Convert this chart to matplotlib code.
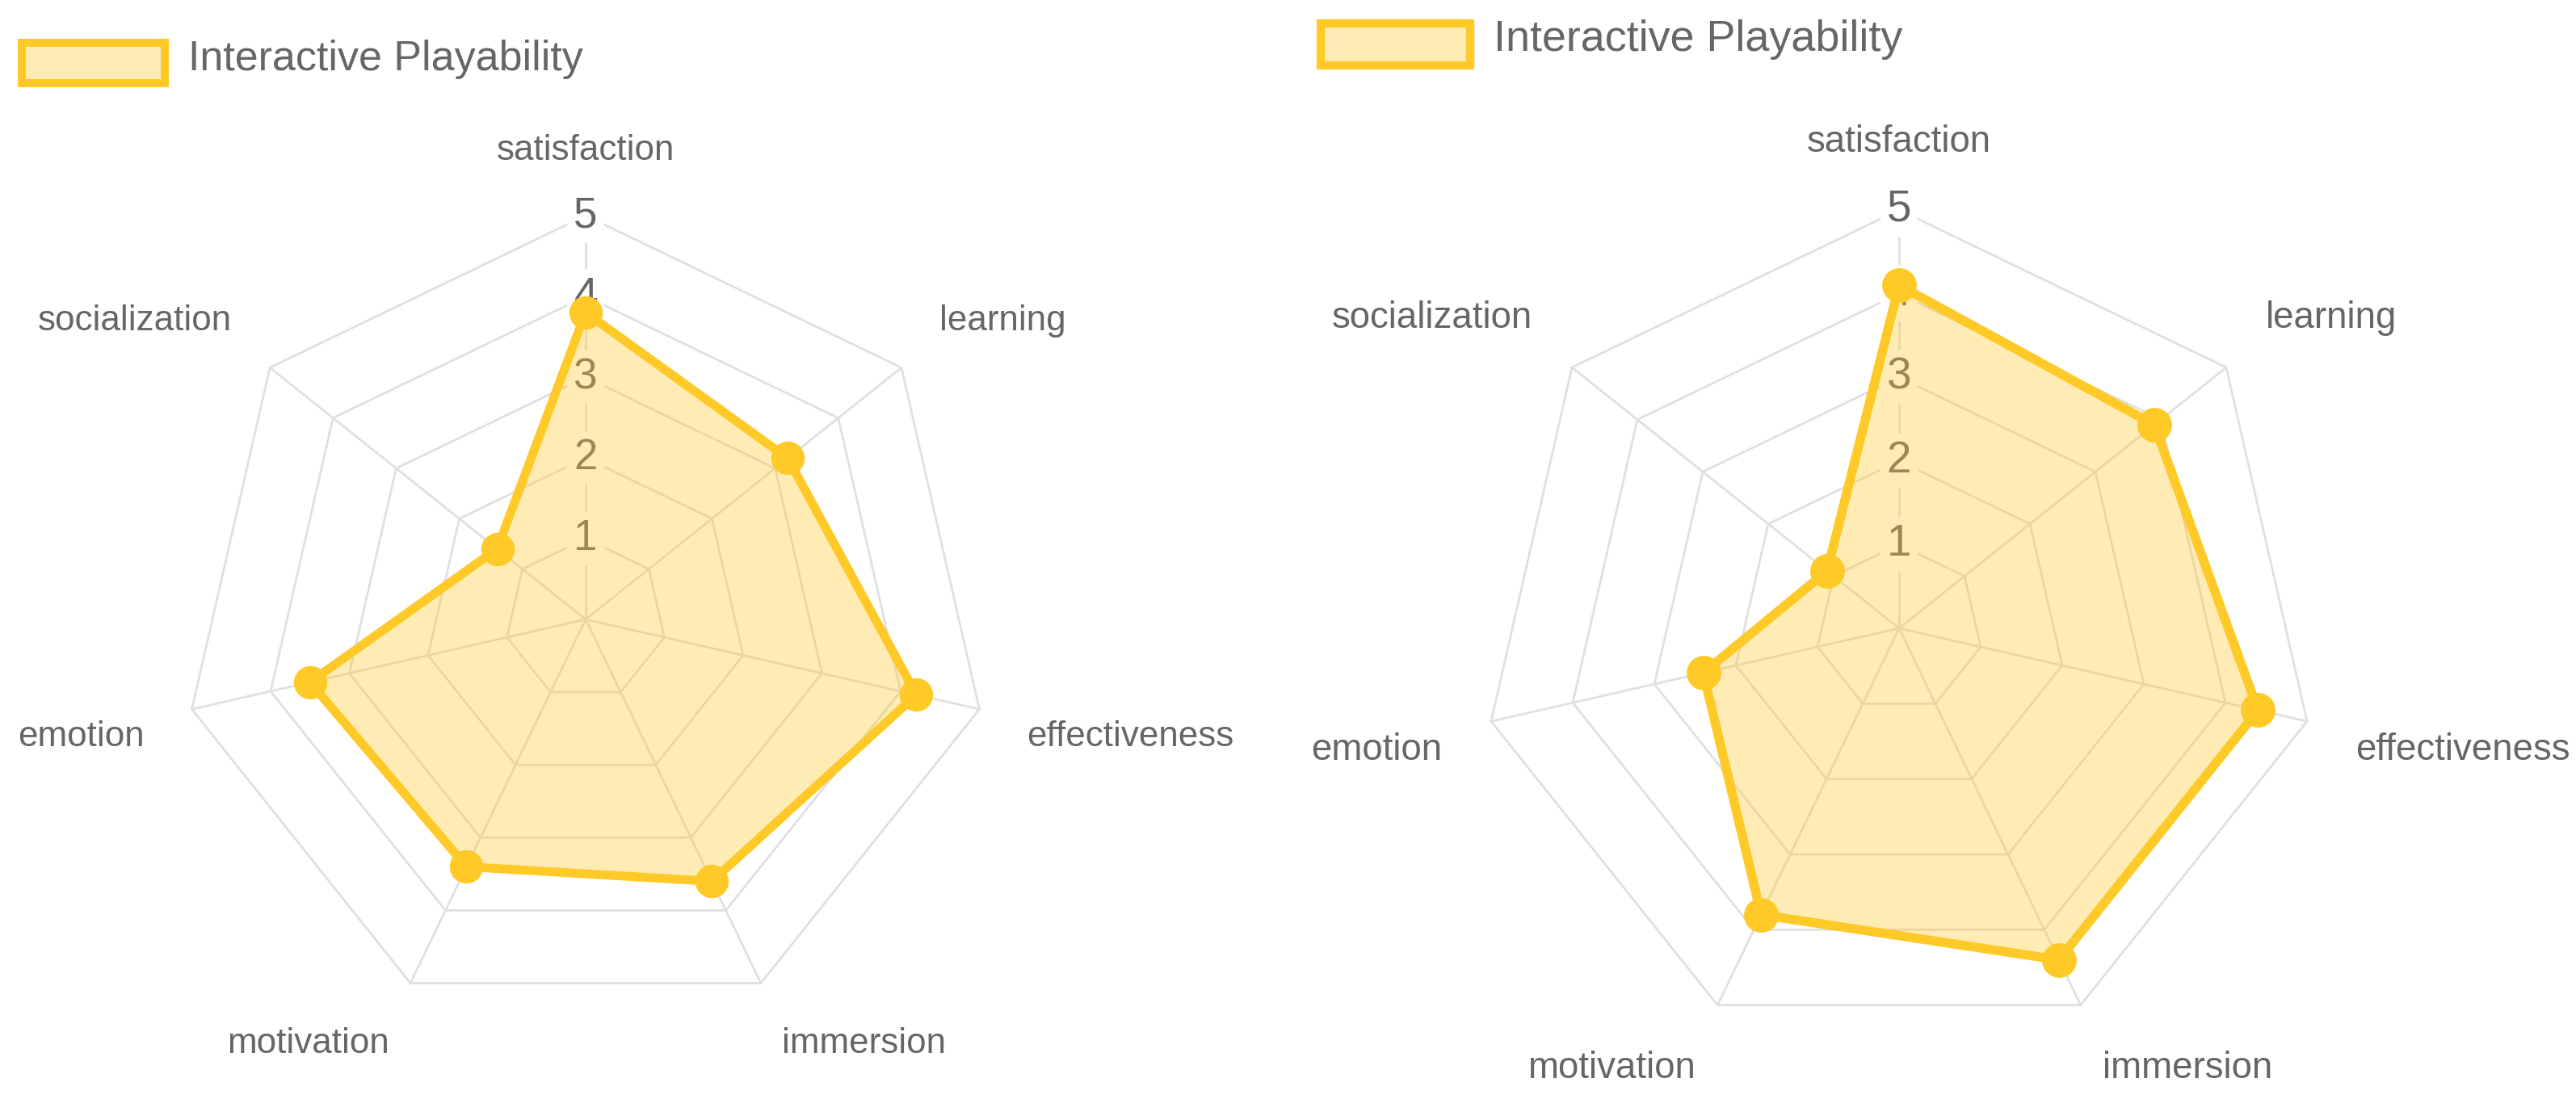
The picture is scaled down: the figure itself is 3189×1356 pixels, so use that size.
import numpy as np
import matplotlib
matplotlib.use('Agg')
import matplotlib.pyplot as plt
import matplotlib.patches as mpatches

# ---- data ----
categories = ['satisfaction', 'learning', 'effectiveness', 'immersion',
              'motivation', 'emotion', 'socialization']
left_values = [3.8, 3.2, 4.2, 3.6, 3.4, 3.5, 1.4]
right_values = [4.1, 3.9, 4.4, 4.4, 3.8, 2.4, 1.1]
ticks = [1, 2, 3, 4, 5]
series_label = 'Interactive Playability'

# ---- style ----
W, H = 3189, 1356
DPI = 100
PX = 72 / DPI
LINE = '#FFC928'
GRID = '#E0E0E0'
TEXT = '#666666'
plt.rcParams['font.family'] = ['Liberation Sans', 'DejaVu Sans']

fig = plt.figure(figsize=(W / DPI, H / DPI), dpi=DPI)
fig.patch.set_facecolor('white')


def radar(center, radius_px, values, scale):
    cx, cy = center
    ax = fig.add_axes([(cx - radius_px) / W, (H - cy - radius_px) / H,
                       2 * radius_px / W, 2 * radius_px / H], projection='polar')
    ax.set_theta_offset(np.pi / 2)
    ax.set_theta_direction(-1)
    ax.set_ylim(0, 5)
    ax.set_axis_off()
    n = len(categories)
    th = np.arange(n) * 2 * np.pi / n
    thc = np.append(th, th[0])
    for k in ticks:
        ax.plot(thc, [k] * (n + 1), color=GRID, lw=2.8 * PX, zorder=1, clip_on=False)
    for t in th:
        ax.plot([t, t], [0, 5], color=GRID, lw=2.8 * PX, zorder=1, clip_on=False)
    for k in ticks:
        ax.text(0, k, str(k), ha='center', va='center', fontsize=53 * scale * PX,
                color=TEXT, zorder=2,
                bbox=dict(boxstyle='square,pad=0.15', fc='white', ec='none'))
    vals = np.append(values, values[0])
    ax.fill(thc, vals, color=LINE, alpha=0.35, lw=0, zorder=3)
    ax.plot(thc, vals, color=LINE, lw=11 * scale * PX, zorder=4, clip_on=False)
    ax.plot(th, values, 'o', ms=40 * scale * PX, color=LINE, mec=LINE,
            zorder=5, clip_on=False)
    for t, name in zip(th, categories):
        deg = np.degrees(t) % 360
        if np.isclose(deg, 0) or np.isclose(deg, 180):
            ha = 'center'
        elif deg < 180:
            ha = 'left'
        else:
            ha = 'right'
        va = 'bottom' if (deg < 90 or deg > 270) else 'top'
        ax.text(t, 5.6, name, ha=ha, va=va, fontsize=44 * scale * PX, color=TEXT)
    return ax


def legend(box, text_x, baseline, scale):
    x0, y0, x1, y1 = box
    rect = mpatches.Rectangle((x0 / W, 1 - y1 / H), (x1 - x0) / W, (y1 - y0) / H,
                              transform=fig.transFigure, facecolor=LINE,
                              edgecolor='none', alpha=0.35)
    fig.add_artist(rect)
    rect2 = mpatches.Rectangle((x0 / W, 1 - y1 / H), (x1 - x0) / W, (y1 - y0) / H,
                               transform=fig.transFigure, facecolor='none',
                               edgecolor=LINE, lw=10 * scale * PX)
    fig.add_artist(rect2)
    fig.text(text_x / W, 1 - baseline / H, series_label, ha='left', va='baseline',
             fontsize=52 * scale * PX, color=TEXT)


radar((725, 767), 500, left_values, 1.0)
radar((2351, 778), 518, right_values, 1.036)
legend((27, 53, 204, 103), 233, 87, 1.0)
legend((1635, 29, 1820, 81), 1849, 63, 1.036)

fig.savefig('out.png', dpi=DPI, facecolor='white')
